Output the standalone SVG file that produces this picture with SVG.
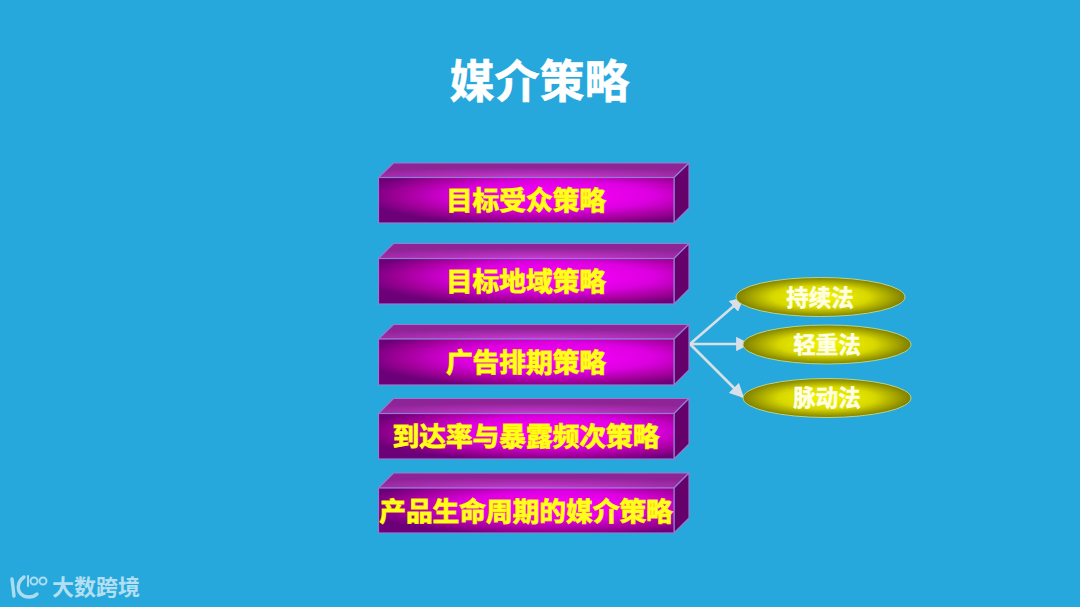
<svg xmlns="http://www.w3.org/2000/svg" width="1080" height="607" viewBox="0 0 1080 607">
<style>
.cjk{font-family:"Liberation Sans","Noto Sans CJK SC",sans-serif;font-weight:700;text-anchor:middle}
.front{fill:url(#fg);stroke:#8f7fd0;stroke-width:1.2}
.top{fill:url(#tg);stroke:#8f7fd0;stroke-width:1.2}
.side{fill:#66006a;stroke:#8f7fd0;stroke-width:1.2}
.lbl{font-size:26.700px;fill:#ffff1a;stroke:#ffe000;stroke-width:1;paint-order:stroke}
.ell{fill:url(#eg);stroke:#b9d58a;stroke-width:1}
.elbl{font-size:22.500px;fill:#ffffe6;stroke:#ffffe6;stroke-width:.5}
.conn{stroke:#d9dfe6;stroke-width:2.6;fill:none;marker-end:url(#arr)}
</style>
<defs>
<radialGradient id="fg" cx="0.6" cy="0.4" r="0.66">
<stop offset="0" stop-color="#ff00ff"/><stop offset="0.5" stop-color="#dc00e0"/><stop offset="0.8" stop-color="#a00098"/><stop offset="1" stop-color="#6c0078"/>
</radialGradient>
<radialGradient id="tg" cx="0.5" cy="1" r="0.7">
<stop offset="0" stop-color="#cc38d2"/><stop offset="1" stop-color="#8e2496"/>
</radialGradient>
<radialGradient id="eg" cx="0.5" cy="0.5" r="0.52">
<stop offset="0" stop-color="#f6f600"/><stop offset="0.55" stop-color="#d8d800"/><stop offset="1" stop-color="#777700"/>
</radialGradient>
<marker id="arr" viewBox="0 0 10 10" refX="9" refY="5" markerWidth="5.500" markerHeight="5.500" orient="auto">
<path d="M0 0L10 5L0 10Z" fill="#d9dfe6"/>
</marker>
</defs>
<rect width="1080" height="607" fill="#26a8dc"/>
<text id="title" class="cjk" x="539.500" y="97.500" font-size="45" fill="#fff" stroke="#fff" stroke-width=".6">媒介策略</text>
<g id="connectors">
<path class="conn" d="M690 344L743 298"/>
<path class="conn" d="M690 344L749 344"/>
<path class="conn" d="M690 344L743 397"/>
</g>
<g id="box1">
<path class="top" d="M378.500 177.500L393.500 163L689 163L674 177.500Z"/><path class="side" d="M674 177.500L689 163L689 208L674 223Z"/><rect class="front" x="378.500" y="177.500" width="295.500" height="45.500"/>
<text class="cjk lbl" x="526" y="210">目标受众策略</text>
</g>
<g id="box2">
<path class="top" d="M378.500 258.500L393.500 243.500L689 243.500L674 258.500Z"/><path class="side" d="M674 258.500L689 243.500L689 289L674 304Z"/><rect class="front" x="378.500" y="258.500" width="295.500" height="45.500"/>
<text class="cjk lbl" x="526" y="291">目标地域策略</text>
</g>
<g id="box3">
<path class="top" d="M378.500 339L393.500 324.500L689 324.500L674 339Z"/><path class="side" d="M674 339L689 324.500L689 370L674 385Z"/><rect class="front" x="378.500" y="339" width="295.500" height="46"/>
<text class="cjk lbl" x="526" y="372">广告排期策略</text>
</g>
<g id="box4">
<path class="top" d="M378.500 413.500L393.500 398.500L689 398.500L674 413.500Z"/><path class="side" d="M674 413.500L689 398.500L689 444L674 459Z"/><rect class="front" x="378.500" y="413.500" width="295.500" height="45.500"/>
<text class="cjk lbl" x="526" y="446">到达率与暴露频次策略</text>
</g>
<g id="box5">
<path class="top" d="M378.500 488L393.500 473L689 473L674 488Z"/><path class="side" d="M674 488L689 473L689 518L674 533Z"/><rect class="front" x="378.500" y="488" width="295.500" height="45"/>
<text class="cjk lbl" x="526" y="521">产品生命周期的媒介策略</text>
</g>
<g id="oval1"><ellipse class="ell" cx="820.500" cy="297" rx="84.500" ry="19.500"/><text class="cjk elbl" x="820" y="305.500">持续法</text></g>
<g id="oval2"><ellipse class="ell" cx="827" cy="344.500" rx="84" ry="19.500"/><text class="cjk elbl" x="827" y="352.500">轻重法</text></g>
<g id="oval3"><ellipse class="ell" cx="827" cy="398" rx="84" ry="19.500"/><text class="cjk elbl" x="827" y="406">脉动法</text></g>
<g id="watermark" opacity="0.8">
<g fill="none" stroke="#cfeaf6" stroke-width="3.4" stroke-linecap="round">
<path d="M12 579L14 596"/><path d="M24 577C17 582 17 590 21 594C25 598 33 598 37 594" />
<path d="M28 576L28 586" stroke-width="2"/>
<circle cx="34" cy="581" r="3.500" stroke-width="2"/><circle cx="43" cy="581" r="3.500" stroke-width="2"/>
</g>
<text class="cjk" x="96" y="595" font-size="22" fill="#d5edf8">大数跨境</text>
</g>
</svg>
